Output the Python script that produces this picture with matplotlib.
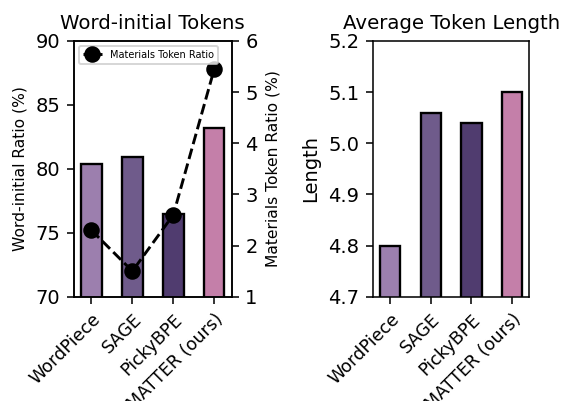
import numpy as np
import matplotlib
matplotlib.use("Agg")
import matplotlib.pyplot as plt

methods = ["WordPiece", "SAGE", "PickyBPE", "MATTER (ours)"]
word_initial = [80.4, 80.9, 76.5, 83.2]
materials_ratio = [2.3, 1.5, 2.6, 5.45]
avg_length = [4.80, 5.06, 5.04, 5.10]
colors = ["#9c7fae", "#6f5b8b", "#503c6f", "#c47fa9"]

x = np.arange(len(methods))

# figure drawn at 140 dpi so default sizes come out like the original
fig = plt.figure(figsize=(565 / 140, 401 / 140), dpi=140)
ax1 = fig.add_axes([0.131, 0.260, 0.279, 0.638])
ax3 = fig.add_axes([0.660, 0.260, 0.277, 0.638])

# left panel: bars + line on twin axis
ax1.bar(x, word_initial, width=0.5, color=colors, edgecolor="black", linewidth=1.2)
ax1.set_ylim(70, 90)
ax1.set_yticks([70, 75, 80, 85, 90])
ax1.set_ylabel("Word-initial Ratio (%)", fontsize=8)
ax1.set_title("Word-initial Tokens", fontsize=10.2)
ax1.set_xticks(x)
ax1.set_xticklabels(methods, rotation=45, ha="right", rotation_mode="anchor", fontsize=9)

ax2 = ax1.twinx()
ax2.plot(x, materials_ratio, "k--o", linewidth=1.5, markersize=7.5, label="Materials Token Ratio")
ax2.set_ylim(1, 6)
ax2.set_yticks([1, 2, 3, 4, 5, 6])
ax2.set_ylabel("Materials Token Ratio (%)", fontsize=8)
ax2.legend(loc="upper left", fontsize=5)

# right panel
ax3.bar(x, avg_length, width=0.5, color=colors, edgecolor="black", linewidth=1.2)
ax3.set_ylim(4.7, 5.2)
ax3.set_yticks([4.7, 4.8, 4.9, 5.0, 5.1, 5.2])
ax3.set_ylabel("Length")
ax3.set_title("Average Token Length", fontsize=10.2)
ax3.set_xticks(x)
ax3.set_xticklabels(methods, rotation=45, ha="right", rotation_mode="anchor", fontsize=9)

fig.savefig("out.png", dpi=140)
